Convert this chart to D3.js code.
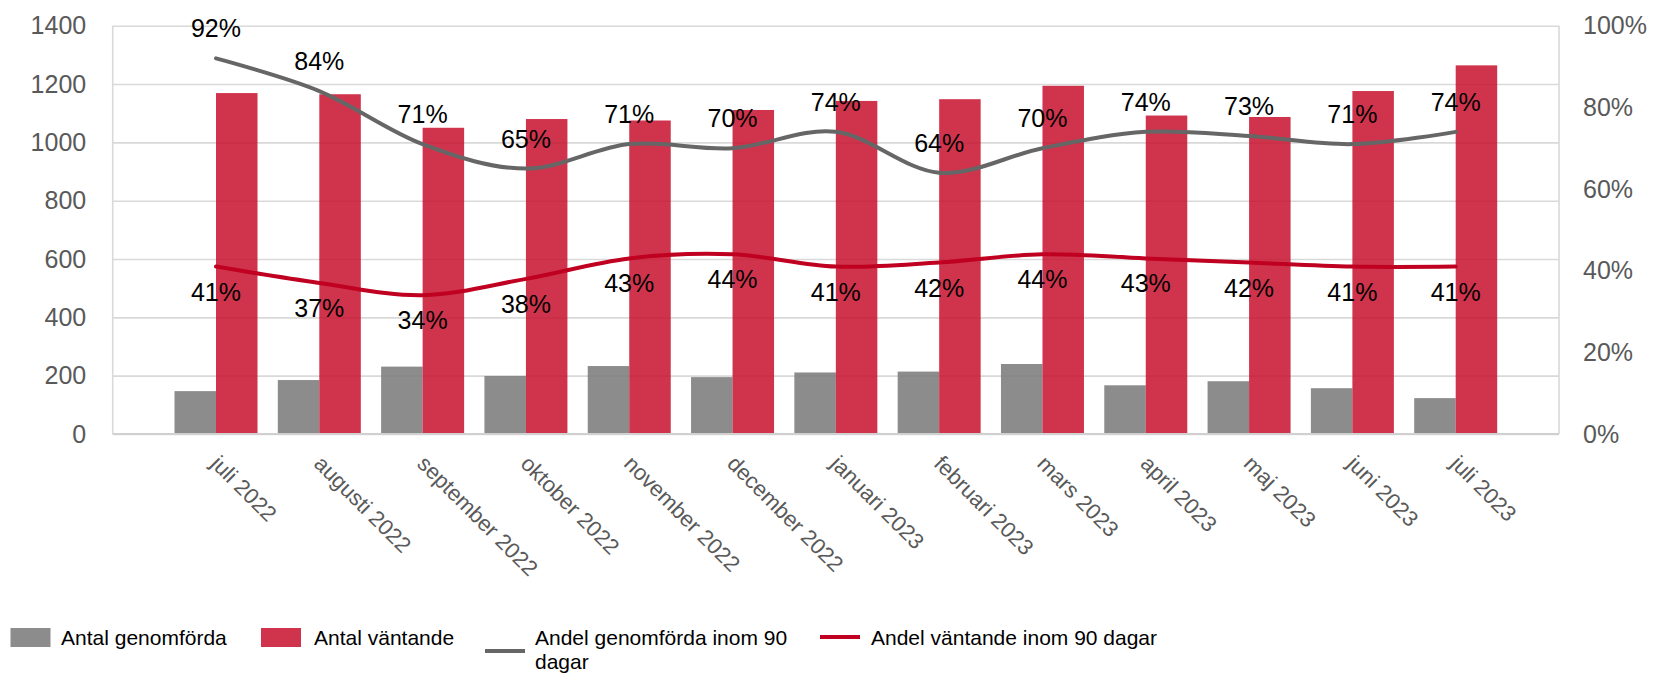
<!DOCTYPE html>
<html>
<head>
<meta charset="utf-8">
<script src="https://cdn.jsdelivr.net/npm/d3@7"></script>
<style>
  html, body { margin: 0; padding: 0; background: #fff; }
  svg { display: block; font-family: "Liberation Sans", Arial, sans-serif; }
</style>
</head>
<body>
<svg id="chart" width="1653" height="674"></svg>
<script>
// ---- data ----
const months = ["juli 2022","augusti 2022","september 2022","oktober 2022","november 2022","december 2022","januari 2023","februari 2023","mars 2023","april 2023","maj 2023","juni 2023","juli 2023"];
const antalGenomforda = [147, 185, 231, 199, 233, 195, 211, 214, 240, 167, 181, 157, 123];
const antalVantande = [1169, 1165, 1050, 1080, 1075, 1111, 1142, 1148, 1194, 1092, 1087, 1176, 1264];
const andelGenomforda = [0.92, 0.84, 0.71, 0.65, 0.71, 0.70, 0.74, 0.64, 0.70, 0.74, 0.73, 0.71, 0.74];
const andelVantande = [0.41, 0.37, 0.34, 0.38, 0.43, 0.44, 0.41, 0.42, 0.44, 0.43, 0.42, 0.41, 0.41];
const leftTicks = [0, 200, 400, 600, 800, 1000, 1200, 1400];
const rightTicks = [0, 0.2, 0.4, 0.6, 0.8, 1.0];
const seriesNames = ["Antal genomförda", "Antal väntande", "Andel genomförda inom 90 dagar", "Andel väntande inom 90 dagar"];

// ---- layout ----
const L = 112.7, R = 1559, T = 25.7, B = 434;
const cGrayBar = "#808080", cRedBar = "#c8102e";
const cGrayLine = "#666666", cRedLine = "#c00020";
const tickColor = "#595959";

const svg = d3.select("#chart");

const x = d3.scalePoint().domain(months).range([L, R]).padding(1);
const inner = d3.scaleBand().domain(["g", "v"]).range([-41.5, 41.5]).padding(0);
const yL = d3.scaleLinear().domain([0, 1400]).range([B, T]);
const yR = d3.scaleLinear().domain([0, 1]).range([B, T]);

// gridlines
const grid = svg.append("g").attr("transform", `translate(${L},0)`)
  .call(d3.axisLeft(yL).tickValues(leftTicks).tickSize(-(R - L)).tickFormat(""));
grid.select(".domain").remove();
grid.selectAll("line").attr("stroke", "#d9d9d9").attr("stroke-width", 1.6);

// plot border verticals
svg.append("g").selectAll("line").data([L, R]).join("line")
  .attr("x1", d => d).attr("x2", d => d).attr("y1", T).attr("y2", B)
  .attr("stroke", "#d9d9d9").attr("stroke-width", 1.6);

// bars
const groups = svg.append("g").selectAll("g").data(months).join("g")
  .attr("transform", d => `translate(${x(d)},0)`);
groups.append("rect")
  .attr("x", inner("g")).attr("width", inner.bandwidth())
  .attr("y", (d, i) => yL(antalGenomforda[i]))
  .attr("height", (d, i) => B - yL(antalGenomforda[i]))
  .attr("fill", cGrayBar).attr("fill-opacity", 0.9);
groups.append("rect")
  .attr("x", inner("v")).attr("width", inner.bandwidth())
  .attr("y", (d, i) => yL(antalVantande[i]))
  .attr("height", (d, i) => B - yL(antalVantande[i]))
  .attr("fill", cRedBar).attr("fill-opacity", 0.85);

// bottom axis line
svg.append("line").attr("x1", L).attr("x2", R).attr("y1", B).attr("y2", B)
  .attr("stroke", "#d0d0d0").attr("stroke-width", 2);

// lines
const lineGen = arr => d3.line()
  .x((d, i) => x(months[i]))
  .y(d => yR(d))
  .curve(d3.curveCatmullRom.alpha(0))(arr);

svg.append("path").attr("d", lineGen(andelGenomforda))
  .attr("fill", "none").attr("stroke", cGrayLine).attr("stroke-width", 4).attr("stroke-linecap", "round");
svg.append("path").attr("d", lineGen(andelVantande))
  .attr("fill", "none").attr("stroke", cRedLine).attr("stroke-width", 4).attr("stroke-linecap", "round");

// data labels
const pct = d3.format(".0%");
svg.append("g").selectAll("text").data(andelGenomforda).join("text")
  .attr("x", (d, i) => x(months[i])).attr("y", d => yR(d) - 21)
  .attr("text-anchor", "middle").attr("font-size", 25).attr("fill", "#000")
  .text(d => pct(d));
svg.append("g").selectAll("text").data(andelVantande).join("text")
  .attr("x", (d, i) => x(months[i])).attr("y", d => yR(d) + 34)
  .attr("text-anchor", "middle").attr("font-size", 25).attr("fill", "#000")
  .text(d => pct(d));

// left axis
const ax1 = svg.append("g").attr("transform", `translate(${L},0)`)
  .call(d3.axisLeft(yL).tickValues(leftTicks).tickSize(0).tickPadding(26.5).tickFormat(d3.format("d")));
ax1.select(".domain").remove();
ax1.selectAll("text").attr("font-size", 25).attr("fill", tickColor).attr("font-family", "Liberation Sans, Arial, sans-serif");

// right axis
const ax2 = svg.append("g").attr("transform", `translate(${R},0)`)
  .call(d3.axisRight(yR).tickValues(rightTicks).tickSize(0).tickPadding(24).tickFormat(d3.format(".0%")));
ax2.select(".domain").remove();
ax2.selectAll("text").attr("font-size", 25).attr("fill", tickColor).attr("font-family", "Liberation Sans, Arial, sans-serif");

// x axis labels
const ax3 = svg.append("g").attr("transform", `translate(0,${B})`)
  .call(d3.axisBottom(x).tickSize(0));
ax3.select(".domain").remove();
ax3.selectAll("text")
  .attr("x", 0).attr("y", 0).attr("dy", 0)
  .attr("transform", "translate(-7,31) rotate(45)")
  .style("text-anchor", "start")
  .attr("font-size", 22).attr("fill", tickColor).attr("font-family", "Liberation Sans, Arial, sans-serif");

// legend
const lg = svg.append("g").attr("font-size", 21).attr("fill", "#000");
// item 1
lg.append("rect").attr("x", 10.5).attr("y", 628).attr("width", 40).attr("height", 19).attr("fill", cGrayBar).attr("fill-opacity", 0.9);
lg.append("text").attr("x", 61).attr("y", 645).text(seriesNames[0]);
// item 2
lg.append("rect").attr("x", 261).attr("y", 628).attr("width", 40).attr("height", 19).attr("fill", cRedBar).attr("fill-opacity", 0.85);
lg.append("text").attr("x", 314).attr("y", 645).text(seriesNames[1]);
// item 3 (wrapped)
lg.append("line").attr("x1", 485).attr("x2", 525).attr("y1", 651).attr("y2", 651).attr("stroke", cGrayLine).attr("stroke-width", 4);
const t3 = lg.append("text").attr("x", 535).attr("y", 645);
t3.append("tspan").attr("x", 535).text("Andel genomförda inom 90");
t3.append("tspan").attr("x", 535).attr("dy", 24).text("dagar");
// item 4
lg.append("line").attr("x1", 820).attr("x2", 860).attr("y1", 637).attr("y2", 637).attr("stroke", cRedLine).attr("stroke-width", 4);
lg.append("text").attr("x", 871).attr("y", 645).text(seriesNames[3]);
</script>
</body>
</html>
